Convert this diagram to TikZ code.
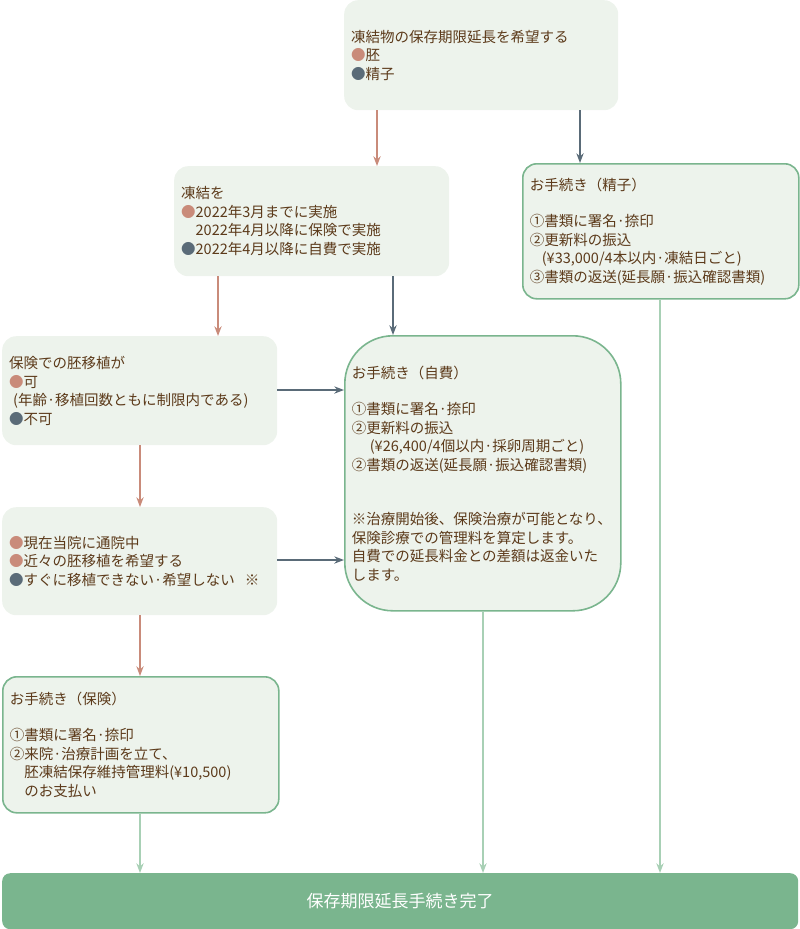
\documentclass[tikz,border=0pt]{standalone}
\usepackage{fontspec}
\setmainfont{Noto Sans CJK JP}
\usetikzlibrary{arrows.meta}
\definecolor{boxfill}{HTML}{EDF3EC}
\definecolor{boxline}{HTML}{7AB58E}
\definecolor{pinkc}{HTML}{C98B7A}
\definecolor{slatec}{HTML}{5A6B78}
\definecolor{textc}{HTML}{5C3A1A}
\definecolor{flowc}{HTML}{A8D0B5}
\newcommand{\pdot}{\textcolor{pinkc}{●}}
\newcommand{\sdot}{\textcolor{slatec}{●}}
\begin{document}
\begin{tikzpicture}[x=1pt,y=-1pt,>=Stealth,
  font=\fontsize{14.5}{18.5}\selectfont,text=textc]
  \tikzset{box/.style={rectangle,rounded corners=14pt,fill=boxfill,anchor=north west,
      align=left,inner sep=7pt,text width=#1},
    step/.style={box=#1,draw=boxline,line width=1.6pt},
    pinkarr/.style={->,draw=pinkc,line width=1.5pt},
    slatearr/.style={->,draw=slatec,line width=1.5pt},
    flowarr/.style={->,draw=flowc,line width=1.5pt}}
  \useasboundingbox (0,0) rectangle (800,929);

  \node[box=260pt,minimum height=110pt] (wish) at (344,0)
    {凍結物の保存期限延長を希望する\\\pdot 胚\\\sdot 精子};
  \node[step=262pt,minimum height=135pt] (sperm) at (522,163)
    {お手続き（精子）\\[18pt]①書類に署名·捺印\\②更新料の振込\\\hspace*{12pt}(¥33,000/4本以内·凍結日ごと)\\③書類の返送(延長願·振込確認書類)};
  \node[box=261pt,minimum height=110pt] (frozen) at (174,166)
    {凍結を\\\pdot 2022年3月までに実施\\\hspace*{14.5pt}2022年4月以降に保険で実施\\\sdot 2022年4月以降に自費で実施};
  \node[step=262pt,minimum height=275pt,rounded corners=48pt] (self) at (344,335)
    {お手続き（自費）\\[18pt]①書類に署名·捺印\\②更新料の振込\\\hspace*{18pt}(¥26,400/4個以内·採卵周期ごと)\\②書類の返送(延長願·振込確認書類)\\[36pt]※治療開始後、保険治療が可能となり、\\保険診療での管理料を算定します。\\自費での延長料金との差額は返金いた\\します。};
  \node[box=261pt,minimum height=109pt] (transfer) at (2,336)
    {保険での胚移植が\\\pdot 可\\\hspace*{4pt}(年齢·移植回数ともに制限内である)\\\sdot 不可};
  \node[box=261pt,minimum height=108pt] (visit) at (2,507)
    {\pdot 現在当院に通院中\\\pdot 近々の胚移植を希望する\\\sdot すぐに移植できない·希望しない\hspace{10pt}※};
  \node[step=262pt,minimum height=136pt] (insur) at (2,676)
    {お手続き（保険）\\[18pt]①書類に署名·捺印\\②来院·治療計画を立て、\\\hspace*{14.5pt}胚凍結保存維持管理料(¥10,500)\\\hspace*{14.5pt}のお支払い};
  \node[rectangle,rounded corners=8pt,fill=boxline,anchor=north west,minimum width=796pt,
    minimum height=56pt,text=white,font=\fontsize{17}{20}\selectfont] (done) at (2,873)
    {保存期限延長手続き完了};

  \draw[pinkarr] (wish.south -| 377,0) -- (frozen.north -| 377,0);
  \draw[slatearr] (wish.south -| 580,0) -- (sperm.north -| 580,0);
  \draw[pinkarr] (frozen.south -| 218,0) -- (transfer.north -| 218,0);
  \draw[slatearr] (frozen.south -| 393,0) -- (self.north -| 393,0);
  \draw[slatearr] (transfer.east |- 0,390) -- (self.west |- 0,390);
  \draw[pinkarr] (transfer.south -| 140,0) -- (visit.north -| 140,0);
  \draw[slatearr] (visit.east |- 0,560) -- (self.west |- 0,560);
  \draw[pinkarr] (visit.south -| 140,0) -- (insur.north -| 140,0);
  \draw[flowarr] (insur.south -| 140,0) -- (done.north -| 140,0);
  \draw[flowarr] (self.south -| 483,0) -- (done.north -| 483,0);
  \draw[flowarr] (sperm.south -| 660,0) -- (done.north -| 660,0);
\end{tikzpicture}
\end{document}
